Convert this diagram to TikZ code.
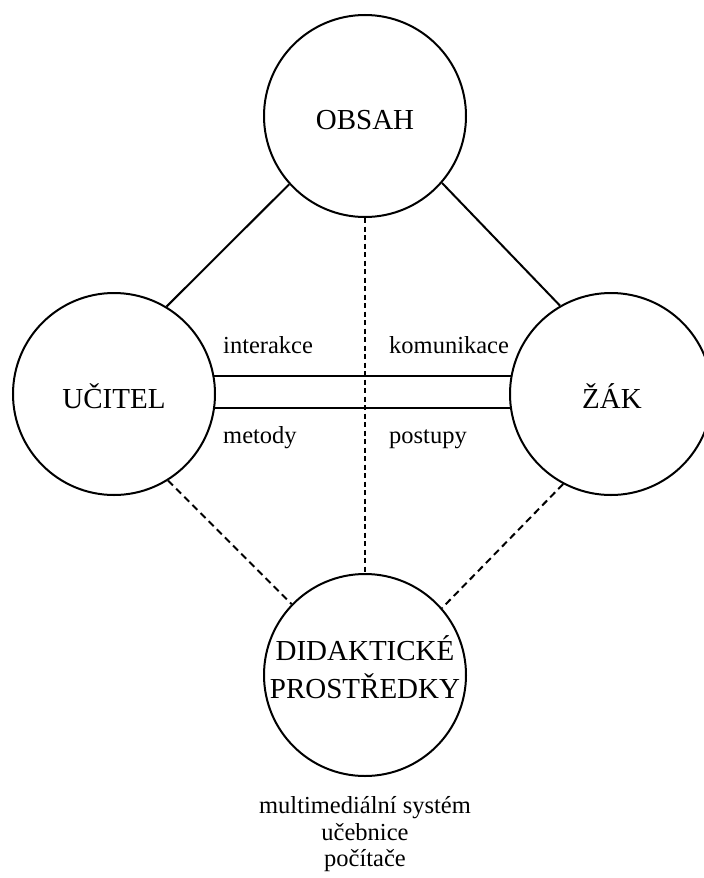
\documentclass[tikz,border=0pt]{standalone}
\usepackage{fontspec}
\setmainfont{Liberation Serif}
\begin{document}
\begin{tikzpicture}[x=1pt,y=-1pt,
  circ/.style={circle,draw,line width=2pt,minimum size=202pt,inner sep=0pt},
  big/.style={font=\fontsize{29}{34}\selectfont,anchor=base,inner sep=0pt},
  small/.style={font=\fontsize{24.5}{27}\selectfont,inner sep=0pt},
  conn/.style={line width=2pt},
  dshdiag/.style={line width=2pt,dash pattern=on 7pt off 4.5pt},
  dshvert/.style={line width=2pt,dash pattern=on 5pt off 3.5pt}]
\useasboundingbox (0,0) rectangle (704,878);
\node[circ] (obsah) at (365,116) {};
\node[circ] (ucitel) at (114,394) {};
\node[circ] (zak) at (611,394) {};
\node[circ] (did) at (365,675) {};
\node[big] (obsaht) at (365,129) {OBSAH};
\node[big] (ucitelt) at (114,408) {UČITEL};
\node[big] (zakt) at (612,408) {ŽÁK};
\node[big] (didt1) at (365,660) {DIDAKTICKÉ};
\node[big] (didt2) at (365,698) {PROSTŘEDKY};
\node[small,anchor=base west] (l1) at (223,353) {interakce};
\node[small,anchor=base west] (l2) at (389,353) {komunikace};
\node[small,anchor=base west] (l3) at (223,443) {metody};
\node[small,anchor=base west] (l4) at (389,443) {postupy};
\node[small,anchor=base] (m1) at (365,813) {multimediální systém};
\node[small,anchor=base] (m2) at (365,840) {učebnice};
\node[small,anchor=base] (m3) at (365,866) {počítače};
\draw[conn] (ucitel.10.3) -- (ucitel.10.3 -| zak.169.7);
\draw[conn] (ucitel.-8) -- (ucitel.-8 -| zak.188);
\draw[conn] (obsah.222) -- (ucitel.59);
\draw[conn] (obsah.319) -- (zak.120);
\draw[dshdiag] (ucitel.-58.5) -- (did.136.5);
\draw[dshdiag] (zak.242) -- (did.41);
\draw[dshvert] (obsah.south) -- (did.north);
\end{tikzpicture}
\end{document}
